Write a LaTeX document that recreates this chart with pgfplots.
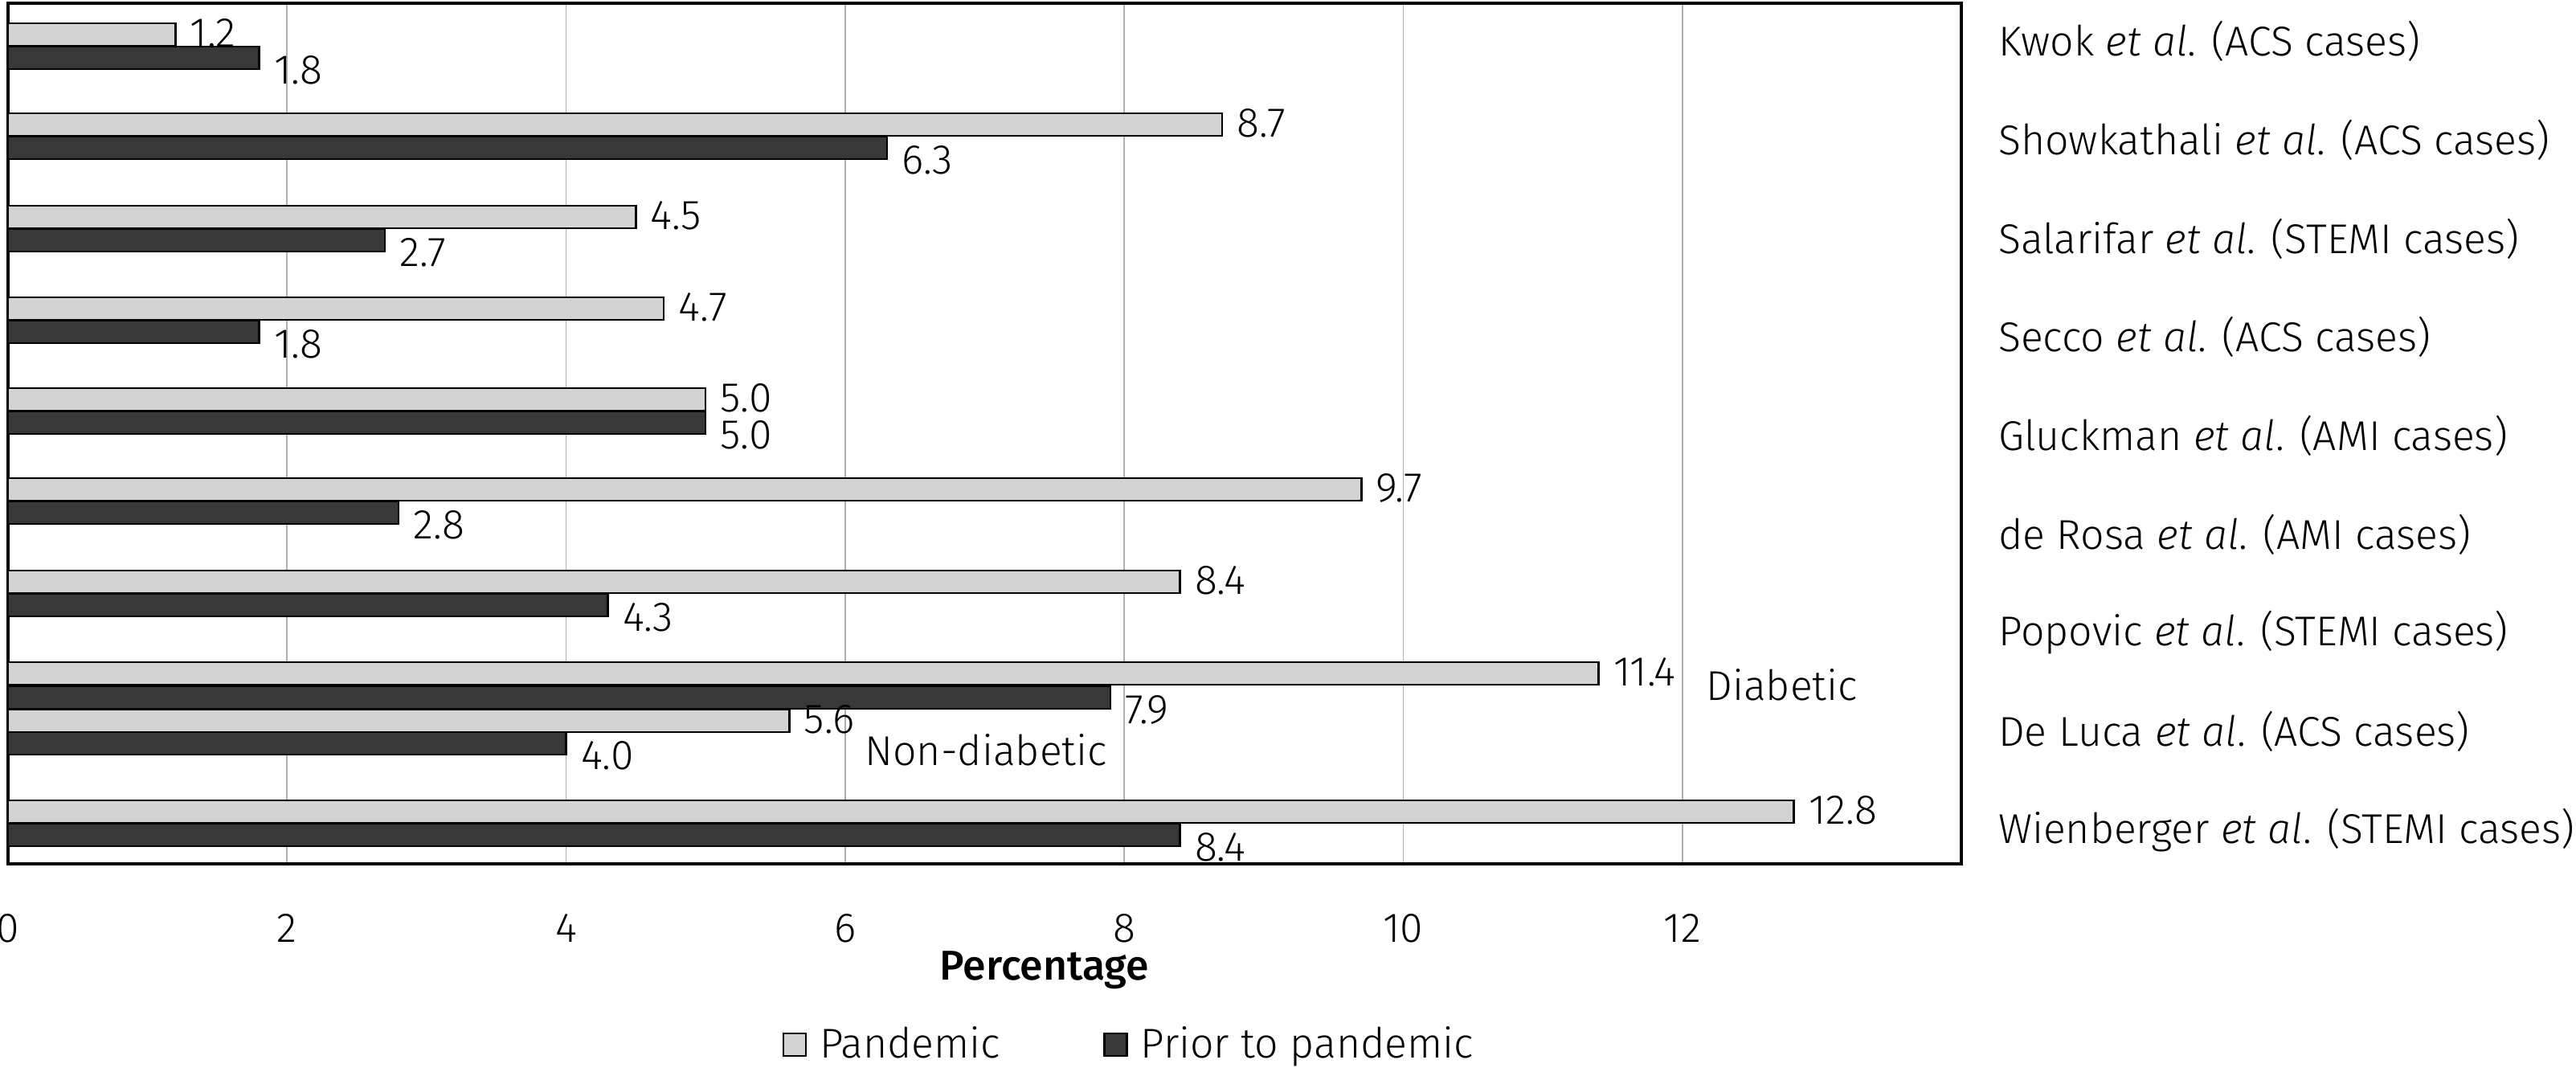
\documentclass[border=0pt]{standalone}
\usepackage{fontspec}
\setmainfont{Fira Sans Light}[ItalicFont={Fira Sans Light Italic}, BoldFont={Fira Sans Medium}]
\usepackage{pgfplots}
\pgfplotsset{compat=1.18}
\definecolor{pand}{RGB}{211,211,211}
\definecolor{prior}{RGB}{56,56,56}
\definecolor{gridc}{RGB}{175,175,175}
\begin{document}
\begin{tikzpicture}
\begin{axis}[
 name=ax, at={(0,0)}, anchor=south west,
 scale only axis, width=607.75bp, height=267.75bp,
 xbar, bar width=28,
 xmin=0, xmax=14, ymin=4, ymax=1075, y dir=reverse,
 xtick={0,2,...,12},
 xmajorgrids, grid style={gridc, line width=0.45bp},
 major tick length=0pt,
 axis line style={line width=0.9bp},
 ytick={51,174,297,419,542,665,787,910,1033},
 yticklabels={
  Kwok \textit{et al}. (ACS cases),
  Showkathali \textit{et al}. (ACS cases),
  Salarifar \textit{et al}. (STEMI cases),
  Secco \textit{et al}. (ACS cases),
  Gluckman \textit{et al}. (AMI cases),
  de Rosa \textit{et al}. (AMI cases),
  Popovic \textit{et al}. (STEMI cases),
  De Luca \textit{et al}. (ACS cases),
  Wienberger \textit{et al}. (STEMI cases)},
 yticklabel pos=right,
 yticklabel style={anchor=west, xshift=8bp},
 xticklabel style={anchor=center, yshift=-20bp},
 ticklabel style={font=\fontsize{13}{15}\selectfont},
 /pgf/number format/assume math mode=true,
 xlabel={\bfseries Percentage},
 xlabel style={at={(axis description cs:0.5306,0)}, anchor=center, yshift=-33bp, font=\fontsize{13}{15}\selectfont},
 legend style={at={(axis description cs:0.575,0)}, anchor=center, yshift=-56.25bp, draw=none,
   font=\fontsize{13}{15}\selectfont, legend columns=2,
   /tikz/every even column/.append style={column sep=30bp},
   /tikz/every odd column/.append style={column sep=2bp}},
 legend image code/.code={\draw[#1, line width=0.6bp] (0bp,-3.5bp) rectangle (7bp,3.5bp);},
 point meta=x,
 nodes near coords={\pgfmathprintnumber[fixed,zerofill,precision=1]{\pgfplotspointmeta}},
 every node near coord/.append style={font=\fontsize{13}{15}\selectfont, xshift=1bp},
 clip=false,
]
\addplot[bar shift=0pt, fill=pand, draw=black, line width=0.6bp,
  every node near coord/.append style={yshift=0.5bp}] coordinates {
 (1.2,43) (8.7,155) (4.5,270) (4.7,384) (5.0,497) (9.7,609) (8.4,724) (11.4,838) (5.6,897) (12.8,1010)};
\addlegendentry{Pandemic}
\addplot[bar shift=0pt, fill=prior, draw=black, line width=0.6bp,
  every node near coord/.append style={yshift=-3.75bp}] coordinates {
 (1.8,72) (6.3,184) (2.7,299) (1.8,413) (5.0,526) (2.8,638) (4.3,753) (7.9,868) (4.0,925) (8.4,1039)};
\addlegendentry{Prior to pandemic}
\node[anchor=west, font=\fontsize{13}{15}\selectfont] at (axis cs:12.09,852) {Diabetic};
\node[anchor=west, font=\fontsize{13}{15}\selectfont] at (axis cs:6.06,933) {Non-diabetic};
\end{axis}
\pgfresetboundingbox
\path (-2.5bp,-64.75bp) rectangle (799bp,268.75bp);
\end{tikzpicture}
\end{document}
